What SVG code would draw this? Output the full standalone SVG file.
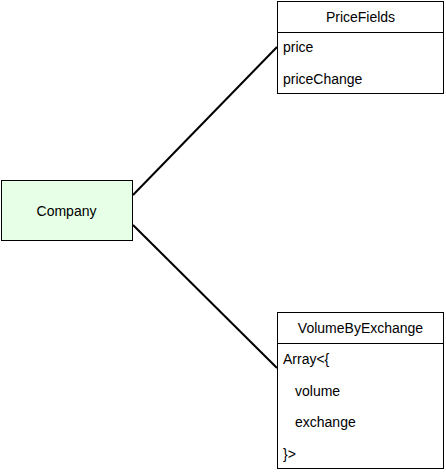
<svg xmlns="http://www.w3.org/2000/svg" width="446" height="473" viewBox="0 0 446 473">
<style>
text{font-family:"Liberation Sans",Arial,Helvetica,sans-serif;font-size:14px;fill:#000}
.box{fill:#fff;stroke:#000;stroke-width:1}
.line{stroke:#000;stroke-width:2;fill:none}
</style>
<rect width="446" height="473" fill="#fff"/>
<g id="connectors">
<path class="line" d="M133 195 L277 47"/>
<path class="line" d="M133 225 L277 368"/>
</g>
<g id="company">
<rect x="1.5" y="180.5" width="131" height="60" fill="#e6ffe6" stroke="#000"/>
<text x="66.5" y="216" text-anchor="middle">Company</text>
</g>
<g id="pricefields">
<rect class="box" x="277.5" y="1.5" width="166" height="92"/>
<line x1="277.5" y1="32.5" x2="443.5" y2="32.5" stroke="#000"/>
<text x="360.5" y="22.3" text-anchor="middle">PriceFields</text>
<text x="283" y="52">price</text>
<text x="283" y="83.5">priceChange</text>
</g>
<g id="volumebyexchange">
<rect class="box" x="277.5" y="312.5" width="166" height="156"/>
<line x1="277.5" y1="343.5" x2="443.5" y2="343.5" stroke="#000"/>
<text x="360.5" y="333.3" text-anchor="middle">VolumeByExchange</text>
<text x="283" y="364">Array&lt;{</text>
<text x="295" y="395.5">volume</text>
<text x="295" y="427">exchange</text>
<text x="283" y="458.5">}&gt;</text>
</g>
</svg>
